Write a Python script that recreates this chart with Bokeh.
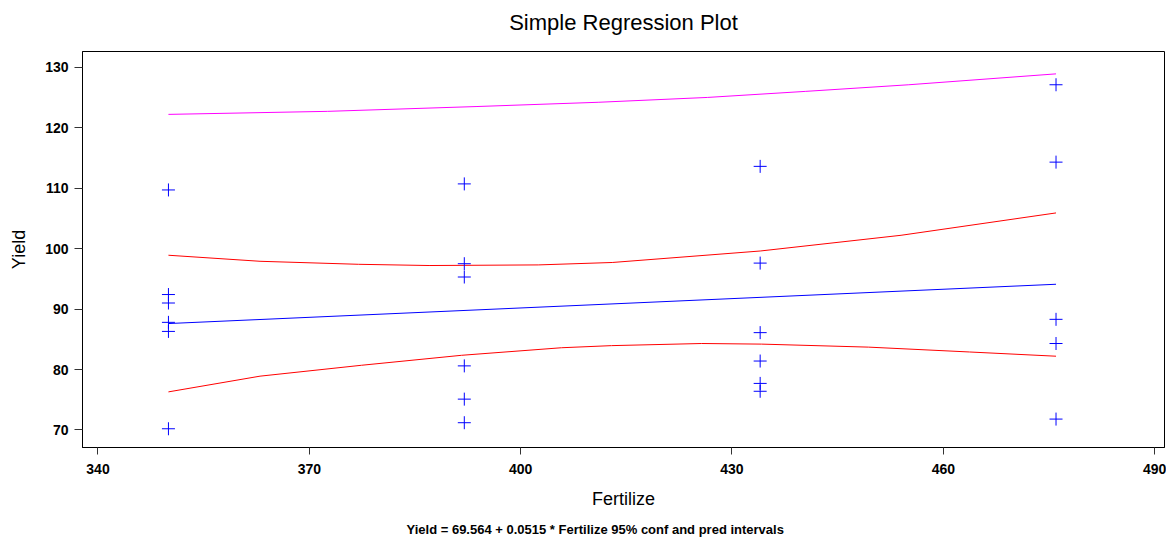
from bokeh.plotting import figure
from bokeh.models import FixedTicker, Range1d, Title, LinearAxis
from bokeh.embed import file_html
from bokeh.resources import INLINE

# ---- data ----
fert = [350, 350, 350, 350, 350, 350,
        392, 392, 392, 392, 392, 392,
        434, 434, 434, 434, 434, 434,
        476, 476, 476, 476, 476]
yld = [109.7, 92.4, 91.0, 87.8, 86.3, 70.2,
       110.7, 97.5, 95.3, 80.6, 75.1, 71.2,
       113.6, 97.6, 86.1, 81.4, 77.7, 76.4,
       127.1, 114.3, 88.3, 84.3, 71.8]

fit_x = [350, 476]
fit_y = [87.6, 94.1]

cu_x = [350, 363, 377, 387, 402.5, 413, 434, 454, 476]
cu_y = [98.9, 97.9, 97.4, 97.2, 97.3, 97.7, 99.6, 102.2, 105.9]

cl_x = [350, 363, 377.4, 391.6, 405.8, 412.9, 425.7, 434.2, 449.4, 463.7, 476]
cl_y = [76.3, 78.9, 80.7, 82.35, 83.6, 83.95, 84.3, 84.2, 83.7, 82.9, 82.2]

pu_x = [350, 372.6, 393.8, 411, 426.5, 440.4, 455.1, 476]
pu_y = [122.2, 122.7, 123.5, 124.2, 125.0, 126.0, 127.1, 128.9]

x_ticks = [340, 370, 400, 430, 460, 490]
y_ticks = [70, 80, 90, 100, 110, 120, 130]

title_text = "Simple Regression Plot"
x_label = "Fertilize"
y_label = "Yield"
footer = "Yield = 69.564 + 0.0515 * Fertilize   95% conf and pred intervals"

FONT = "Liberation Sans"

p = figure(width=1166, height=537, output_backend="svg", toolbar_location=None,
           x_range=Range1d(337.8, 491.4), y_range=Range1d(67.1, 132.6),
           min_border_left=82, min_border_right=2, min_border_top=51,
           min_border_bottom=90)

p.outline_line_color = "black"
p.outline_line_width = 1
p.xgrid.visible = False
p.ygrid.visible = False

for ax in (p.xaxis, p.yaxis):
    ax.axis_line_color = "black"
    ax.major_tick_line_color = "#333333"
    ax.minor_tick_line_color = None
    ax.major_tick_in = 0
    ax.major_label_text_font = FONT
    ax.major_label_text_font_style = "bold"
    ax.major_label_text_font_size = "14px"
    ax.major_label_text_color = "black"
    ax.axis_label_text_font = FONT
    ax.axis_label_text_font_style = "normal"
    ax.axis_label_text_font_size = "18px"
    ax.axis_label_text_color = "black"

p.xaxis.ticker = FixedTicker(ticks=x_ticks)
p.yaxis.ticker = FixedTicker(ticks=y_ticks)
p.xaxis.major_tick_out = 7
p.yaxis.major_tick_out = 8
p.xaxis.major_label_standoff = 9
p.yaxis.major_label_standoff = 6
p.xaxis.axis_label = x_label
p.yaxis.axis_label = y_label
p.xaxis.axis_label_standoff = 12
p.yaxis.axis_label_standoff = 13


def spacer(n):
    # invisible axis used only to reserve n pixels of room
    return LinearAxis(ticker=FixedTicker(ticks=[400]), major_tick_out=n,
                      major_tick_in=0, major_label_standoff=0,
                      major_label_overrides={400: ""},
                      axis_line_color=None, major_tick_line_color=None,
                      minor_tick_line_color=None,
                      major_label_text_font_size="0px")


# spacer between frame and title, then the title
p.add_layout(spacer(17), "above")
p.title.text = title_text
p.title.align = "center"
p.title.text_font = FONT
p.title.text_font_size = "22px"
p.title.text_font_style = "normal"
p.title.text_color = "black"
p.title.standoff = 0

p.line(pu_x, pu_y, line_color="#ff00ff", line_width=1)
p.line(cu_x, cu_y, line_color="#ff0000", line_width=1)
p.line(cl_x, cl_y, line_color="#ff0000", line_width=1)
p.line(fit_x, fit_y, line_color="#0000ff", line_width=1)
p.scatter(fert, yld, marker="cross", size=13, line_color="#0000ff", line_width=1)

# spacer below the x axis, then the footer line
p.add_layout(spacer(8), "below")
foot = Title(text=footer, align="left", offset=324, text_font=FONT,
             text_font_size="13px", text_font_style="bold", text_color="black",
             standoff=0)
p.add_layout(foot, "below")

open("out.html", "w").write(file_html(p, INLINE))
